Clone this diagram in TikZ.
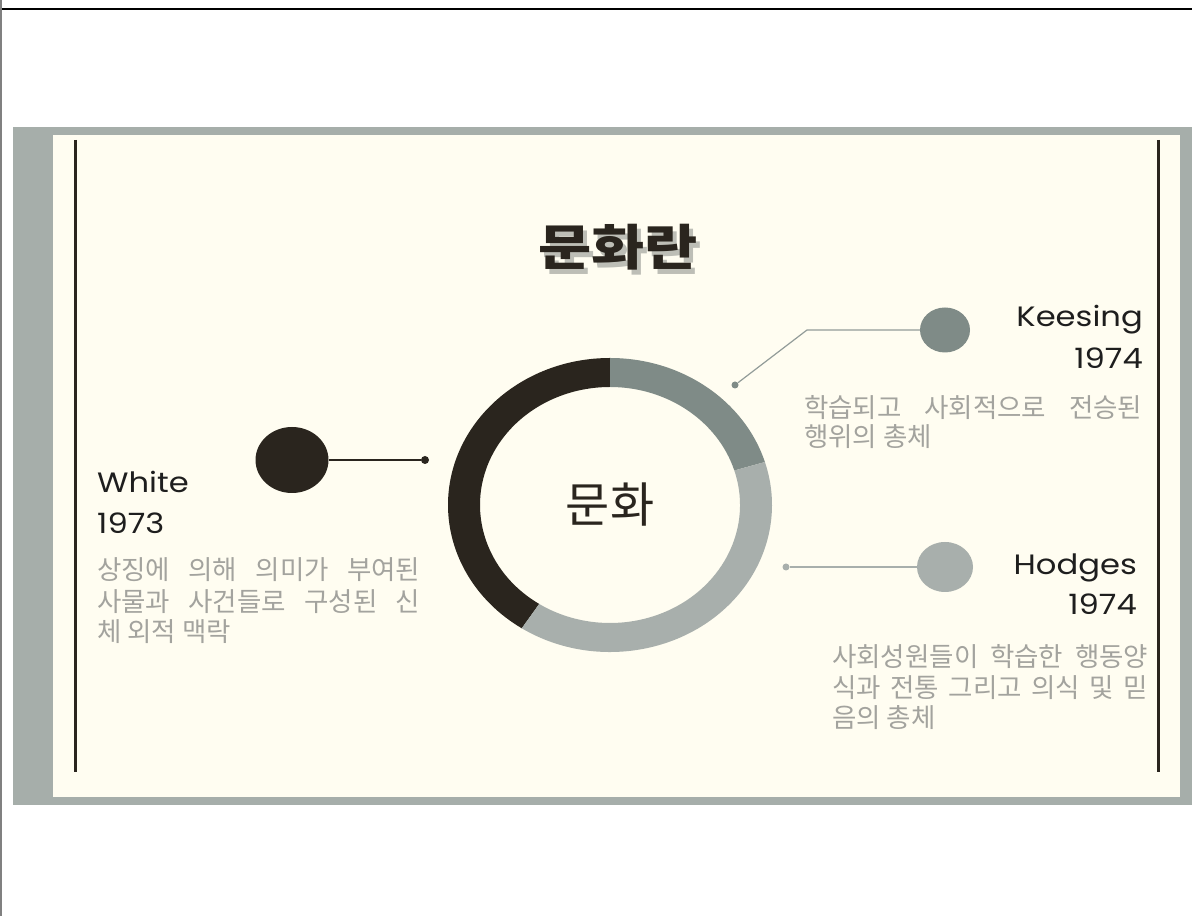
\documentclass[tikz,border=0pt]{standalone}
\usepackage{fontspec}
\usetikzlibrary{calc,shapes.geometric}
\newfontfamily\latinf[FakeStretch=1.15]{Poppins}
\newfontfamily\krf{Noto Sans CJK KR}
\newfontfamily\krmid{Noto Sans CJK KR}
\newfontfamily\krtitle[FakeStretch=1.18]{Noto Sans CJK KR}
\definecolor{darkc}{HTML}{2A251E}
\definecolor{midc}{HTML}{7F8B87}
\definecolor{lightc}{HTML}{A8AFAC}
\definecolor{creamc}{HTML}{FFFDF1}
\definecolor{bandc}{HTML}{A6AEAA}
\definecolor{krtext}{HTML}{A3A39E}
\definecolor{nametext}{HTML}{1E1E1E}
\definecolor{shadowc}{HTML}{BDBEB6}
\tikzset{
  nametxt/.style={font=\latinf\fontsize{28}{30}\selectfont, text=nametext, inner sep=0pt},
  krline/.style={font=\krf\fontsize{26.5}{28}\selectfont, text=krtext, inner sep=0pt, anchor=west},
  bigdot/.style={ellipse, inner sep=0pt, draw=none},
  smalldot/.style={circle, inner sep=0pt, minimum size=8pt, draw=none},
  vline/.style={line width=3pt, draw=darkc},
}
\begin{document}
\begin{tikzpicture}[x=1pt,y=1pt]
\useasboundingbox (0,0) rectangle (1192,916);
\fill[white] (0,0) rectangle (1192,916);
\draw[line width=1.5pt, black] (0,907) -- (1192,907);
\draw[line width=2pt, gray] (1,0) -- (1,916);
\fill[bandc] (13,111) rectangle (1192,789);
\fill[creamc] (53,119) rectangle (1180,781);
\draw[vline] (75,776) -- (75,144);
\draw[vline] (1158,776) -- (1158,144);

% title
\node[font=\krtitle\bfseries\fontsize{49}{50}\selectfont, text=shadowc] (tshadow) at (622,664) {문화란};
\node[font=\krtitle\bfseries\fontsize{49}{50}\selectfont, text=darkc] (title) at (618,669) {문화란};

% ring
\coordinate (rc) at (610,411);
\fill[darkc] ($(rc)+(90:162 and 147)$) arc[start angle=90,end angle=237,x radius=162,y radius=147]
  -- ($(rc)+(237:130 and 118)$) arc[start angle=237,end angle=90,x radius=130,y radius=118] -- cycle;
\fill[midc] ($(rc)+(17:162 and 147)$) arc[start angle=17,end angle=90,x radius=162,y radius=147]
  -- ($(rc)+(90:130 and 118)$) arc[start angle=90,end angle=17,x radius=130,y radius=118] -- cycle;
\fill[lightc] ($(rc)+(-123:162 and 147)$) arc[start angle=-123,end angle=17,x radius=162,y radius=147]
  -- ($(rc)+(17:130 and 118)$) arc[start angle=17,end angle=-123,x radius=130,y radius=118] -- cycle;
\node[font=\krmid\fontsize{48}{50}\selectfont, text=darkc] (ctr) at (rc) {문화};

% White
\node[bigdot, fill=darkc, minimum width=73pt, minimum height=66pt] (wc) at (292,456) {};
\node[smalldot, fill=darkc] (wd) at (425,456) {};
\draw[darkc, line width=1.5pt] (wc.east) -- (wd);
\node[nametxt, anchor=base west] (wname) at (97,423) {White};
\node[nametxt, anchor=base west] (wyear) at (97,382) {1973};
\node[krline] (w1) at (97,346) {\makebox[323pt][s]{상징에 의해 의미가 부여된}};
\node[krline] (w2) at (97,314) {\makebox[323pt][s]{사물과 사건들로 구성된 신}};
\node[krline] (w3) at (97,284) {체 외적 맥락};

% Keesing
\node[bigdot, fill=midc, minimum width=50pt, minimum height=45pt] (kc) at (945,586) {};
\node[smalldot, fill=midc, minimum size=7pt] (kd) at (735,531) {};
\coordinate (kb) at (807,586);
\draw[midc!85!white, line width=1.2pt] (kc.west) -- (kb) -- (kd);
\node[nametxt, anchor=base east] (kname) at (1143,589) {Keesing};
\node[nametxt, anchor=base east] (kyear) at (1143,547) {1974};
\node[krline] (k1) at (804,508) {\makebox[338pt][s]{학습되고 사회적으로 전승된}};
\node[krline] (k2) at (804,479) {행위의 총체};

% Hodges
\node[bigdot, fill=lightc, minimum width=56pt, minimum height=50pt] (hc) at (945,349) {};
\node[smalldot, fill=lightc, minimum size=7pt] (hd) at (786,349) {};
\draw[lightc, line width=1.5pt] (hc.west) -- (hd);
\node[nametxt, anchor=base east] (hname) at (1137,341) {Hodges};
\node[nametxt, anchor=base east] (hyear) at (1137,301) {1974};
\node[krline] (h1) at (832,259) {\makebox[316pt][s]{사회성원들이 학습한 행동양}};
\node[krline] (h2) at (832,228) {\makebox[316pt][s]{식과 전통 그리고 의식 및 믿}};
\node[krline] (h3) at (832,198.5) {음의 총체};
\end{tikzpicture}
\end{document}
